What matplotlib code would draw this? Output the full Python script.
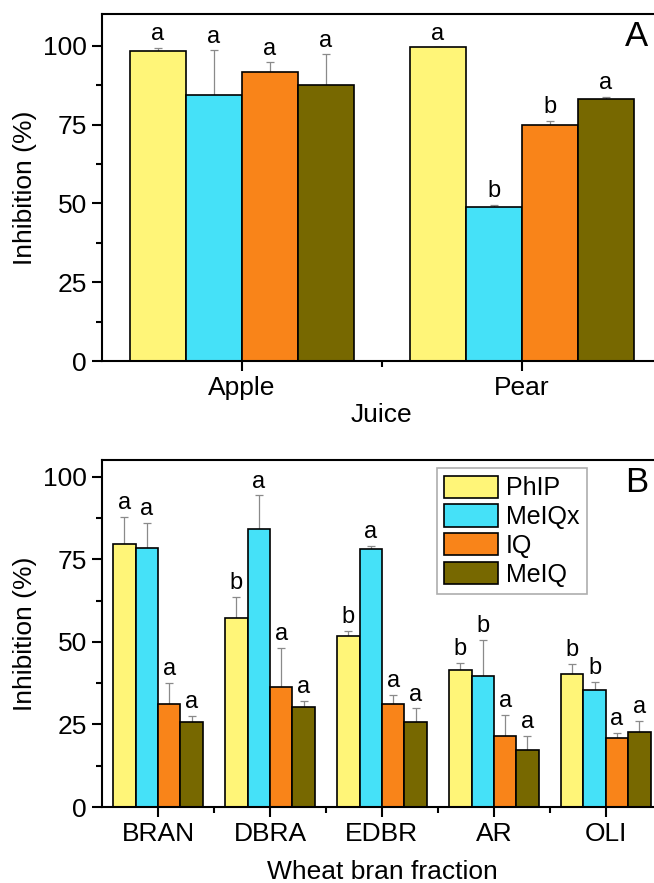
import matplotlib.pyplot as plt
import numpy as np

plt.rcParams["font.family"] = ["Liberation Sans", "DejaVu Sans"]

compounds = ["PhIP", "MeIQx", "IQ", "MeIQ"]
colors = ["#FFF578", "#45E1F8", "#F98419", "#776800"]

juices = ["Apple", "Pear"]
juice_vals = {
    "PhIP": [98.4, 99.5],
    "MeIQx": [84.4, 48.9],
    "IQ": [91.7, 74.8],
    "MeIQ": [87.6, 83.2],
}
juice_err = {
    "PhIP": [1.0, 0.0],
    "MeIQx": [14.2, 0.7],
    "IQ": [3.0, 1.4],
    "MeIQ": [9.7, 0.6],
}
juice_letters = {
    "PhIP": ["a", "a"],
    "MeIQx": ["a", "b"],
    "IQ": ["a", "b"],
    "MeIQ": ["a", "a"],
}

fractions = ["BRAN", "DBRA", "EDBR", "AR", "OLI"]
bran_vals = {
    "PhIP": [79.7, 57.1, 51.7, 41.4, 40.2],
    "MeIQx": [78.4, 84.2, 78.0, 39.7, 35.4],
    "IQ": [31.2, 36.2, 31.2, 21.5, 21.0],
    "MeIQ": [25.8, 30.3, 25.8, 17.2, 22.8],
}
bran_err = {
    "PhIP": [8.2, 6.6, 1.7, 2.3, 3.2],
    "MeIQx": [7.7, 10.1, 1.1, 11.0, 2.5],
    "IQ": [6.3, 12.0, 2.7, 6.5, 1.4],
    "MeIQ": [1.9, 1.8, 4.1, 4.4, 3.3],
}
bran_letters = {
    "PhIP": ["a", "b", "b", "b", "b"],
    "MeIQx": ["a", "a", "a", "b", "b"],
    "IQ": ["a", "a", "a", "a", "a"],
    "MeIQ": ["a", "a", "a", "a", "a"],
}


def draw_panel(ax, cats, vals, errs, letters, ylim, xlabel, panel, xpad):
    x = np.arange(1, len(cats) + 1)
    w = 0.2
    for i, name in enumerate(compounds):
        pos = x + (i - 1.5) * w
        v = np.array(vals[name])
        e = np.array(errs[name])
        ax.bar(pos, v, width=w, color=colors[i], edgecolor="black",
               linewidth=1.2, label=name, zorder=2)
        ax.errorbar(pos, v, yerr=[np.zeros_like(e), e], fmt="none",
                    ecolor="#8a8a8a", elinewidth=0.9, capsize=3, capthick=0.9,
                    zorder=1)
        for p, top, lab in zip(pos, v + e, letters[name]):
            ax.text(p, top + 0.8, lab, ha="center", va="bottom", fontsize=17)

    ax.set_xlim(0.5, len(cats) + 0.5)
    ax.set_ylim(*ylim)
    ax.set_xticks(x)
    ax.set_xticklabels(cats)
    ax.set_xticks(np.arange(1.5, len(cats)), minor=True)
    ax.set_yticks([0, 25, 50, 75, 100])
    ax.set_yticks([12.5, 37.5, 62.5, 87.5], minor=True)
    ax.tick_params(axis="both", which="major", direction="out", length=7,
                   width=1.5, labelsize=19, pad=4)
    ax.tick_params(axis="both", which="minor", direction="out", length=4,
                   width=1.5)
    for s in ax.spines.values():
        s.set_linewidth(1.5)
    ax.set_xlabel(xlabel, fontsize=19, labelpad=xpad)
    ax.set_ylabel("Inhibition (%)", fontsize=19, labelpad=4)
    ax.text(0.955, 0.935, panel, transform=ax.transAxes, fontsize=25,
            ha="center", va="center")


fig = plt.figure(figsize=(6.54, 8.83), dpi=100)
ax1 = fig.add_axes([0.156, 0.591, 0.856, 0.393])
ax2 = fig.add_axes([0.156, 0.086, 0.856, 0.393])

draw_panel(ax1, juices, juice_vals, juice_err, juice_letters, (0, 110),
           "Juice", "A", 2)
draw_panel(ax2, fractions, bran_vals, bran_err, bran_letters, (0, 105),
           "Wheat bran fraction", "B", 10)

leg = ax2.legend(loc="upper left", bbox_to_anchor=(0.598, 0.977),
                 fontsize=18, frameon=True, fancybox=False, edgecolor="#999999",
                 handlelength=2.15, handleheight=1.0, handletextpad=0.3,
                 labelspacing=0.16, borderpad=0.3, borderaxespad=0)
leg.get_frame().set_linewidth(1.2)

fig.savefig("out.png", dpi=100)
